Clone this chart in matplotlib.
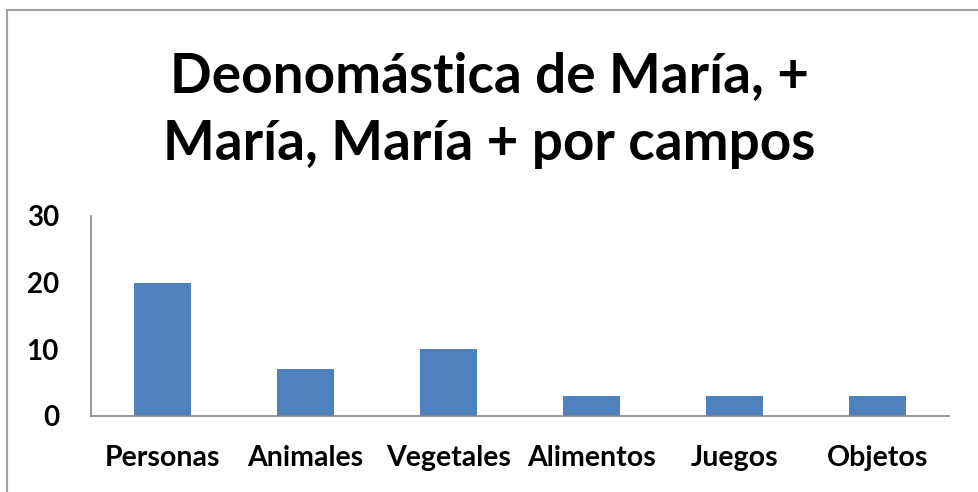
import matplotlib
matplotlib.use("Agg")
import matplotlib.pyplot as plt
from matplotlib.lines import Line2D

categories = ["Personas", "Animales", "Vegetales", "Alimentos", "Juegos", "Objetos"]
values = [20, 7, 10, 3, 3, 3]
yticks = [0, 10, 20, 30]
title_lines = ["Deonomástica de María, +", "María, María + por campos"]

plt.rcParams['font.family'] = ['Lato', 'DejaVu Sans']

fig = plt.figure(figsize=(9.79, 4.92), dpi=100)
ax = fig.add_axes([91/979, 1-416/492, (949-91)/979, (416-216)/492])

x = list(range(len(categories)))
ax.bar(x, values, width=0.4, color="#4F81BD")
ax.set_xlim(-0.5, len(categories)-0.5)
ax.set_ylim(0, 30)
ax.set_yticks(yticks)
ax.set_yticklabels([str(t) for t in yticks], fontsize=20, fontweight='bold')
ax.set_xticks(x)
ax.set_xticklabels(categories, fontsize=20.5, fontweight='bold')
ax.tick_params(axis='y', length=0, pad=23)
ax.tick_params(axis='x', length=0, pad=21)
for s in ['top', 'right']:
    ax.spines[s].set_visible(False)
for s in ['left', 'bottom']:
    ax.spines[s].set_color('#868686')
    ax.spines[s].set_linewidth(1.2)

for line, yb in zip(title_lines, [92, 160]):
    fig.text(0.5, 1-yb/492, line, ha='center', va='baseline', fontsize=39.5,
             fontweight='bold')

# chart area border (left and top visible)
fig.add_artist(Line2D([7/979, 7/979], [0, 1-10/492], transform=fig.transFigure,
                      color='#a0a0a0', lw=1.5))
fig.add_artist(Line2D([7/979, 1], [1-10/492, 1-10/492], transform=fig.transFigure,
                      color='#a0a0a0', lw=1.5))

fig.savefig("out.png", dpi=100)
